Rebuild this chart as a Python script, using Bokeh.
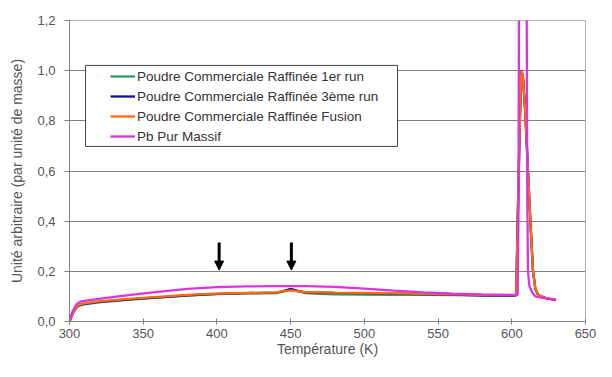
from bokeh.plotting import figure
from bokeh.models import (Legend, LegendItem, BoxAnnotation, Arrow, NormalHead,
                          FixedTicker)
from bokeh.embed import file_html
from bokeh.resources import INLINE

# ---------------- data ----------------
# Poudre Commerciale Raffinée 1er run (green)
t_run1 = [300, 302, 305, 307, 310, 320, 340, 360, 380, 400, 420, 440, 445, 450, 455, 460,
          470, 480, 500, 520, 540, 560, 580, 600, 603, 604, 605.5, 606.5, 607.5, 609,
          611, 612.6, 614.4, 616, 618, 622, 630]
v_run1 = [0.0, 0.03, 0.058, 0.064, 0.068, 0.076, 0.086, 0.095, 0.103, 0.109, 0.112, 0.113,
          0.119, 0.127, 0.12, 0.113, 0.110, 0.108, 0.107, 0.106, 0.106, 0.105, 0.103, 0.103,
          0.104, 0.4, 0.8, 1.0, 0.98, 0.85, 0.6, 0.4, 0.2, 0.13, 0.105, 0.095, 0.085]

# Poudre Commerciale Raffinée 3ème run (blue)
t_run3 = [300, 302, 305, 307, 310, 320, 340, 360, 380, 400, 420, 440, 445, 450, 455, 460,
          480, 500, 520, 540, 560, 580, 600, 603, 604, 605.5, 606.5, 607.5, 609,
          611, 612.6, 614.4, 616, 618, 622, 630]
v_run3 = [0.0, 0.03, 0.059, 0.066, 0.070, 0.078, 0.088, 0.096, 0.104, 0.110, 0.113, 0.115,
          0.121, 0.13, 0.122, 0.116, 0.114, 0.113, 0.111, 0.109, 0.107, 0.104, 0.103,
          0.104, 0.4, 0.8, 1.0, 0.98, 0.85, 0.6, 0.4, 0.2, 0.13, 0.105, 0.095, 0.085]

# Poudre Commerciale Raffinée Fusion (orange)
t_fus = [300, 302, 305, 307, 310, 320, 340, 360, 380, 400, 420, 440, 450, 460, 480, 500,
         520, 540, 560, 580, 600, 603, 604, 605.5, 606.5, 607.5, 609, 611, 612.6, 614.4,
         616, 618, 622, 630]
v_fus = [0.0, 0.03, 0.06, 0.068, 0.072, 0.080, 0.090, 0.098, 0.106, 0.111, 0.114, 0.116,
         0.124, 0.117, 0.115, 0.114, 0.112, 0.110, 0.108, 0.106, 0.105, 0.105, 0.4, 0.8,
         1.0, 0.98, 0.85, 0.6, 0.4, 0.2, 0.13, 0.105, 0.095, 0.085]

# Pb Pur Massif (magenta)
t_pb = [300, 302, 305, 307, 310, 320, 340, 360, 380, 400, 420, 440, 460, 480, 500, 520,
        540, 560, 580, 600, 604, 604.5, 605, 605.5, 609.5, 610, 610.5, 611, 612, 614,
        616, 620, 625, 630]
v_pb = [0.0, 0.04, 0.07, 0.078, 0.082, 0.090, 0.105, 0.118, 0.130, 0.137, 0.140, 0.141,
        0.141, 0.138, 0.131, 0.123, 0.116, 0.111, 0.108, 0.106, 0.106, 0.4, 1.5, 3.0, 3.0,
        1.5, 0.5, 0.2, 0.14, 0.115, 0.1, 0.095, 0.09, 0.087]

series_names = ["Poudre Commerciale Raffinée 1er run",
                "Poudre Commerciale Raffinée 3ème run",
                "Poudre Commerciale Raffinée Fusion",
                "Pb Pur Massif"]
series_colors = ["#339966", "#14149a", "#ff6a0a", "#dd33dd"]

x_ticks = [300, 350, 400, 450, 500, 550, 600, 650]
y_ticks = [0.0, 0.2, 0.4, 0.6, 0.8, 1.0, 1.2]
y_tick_labels = ["0,0", "0,2", "0,4", "0,6", "0,8", "1,0", "1,2"]

arrow_x = [401.5, 450.5]
arrow_y_top = 0.315
arrow_y_tip = 0.205

FONT = "Liberation Sans"
TXT = "#555555"

# ---------------- figure ----------------
p = figure(width=596, height=361, x_range=(300, 650), y_range=(0, 1.2),
           output_backend="svg", toolbar_location=None,
           min_border_left=69, min_border_right=11, min_border_top=20,
           min_border_bottom=40)
p.background_fill_color = "white"
p.border_fill_color = "white"
p.outline_line_color = "#b0b0b0"
p.outline_line_width = 1

p.xgrid.grid_line_color = None
p.ygrid.grid_line_color = "#808080"
p.ygrid.grid_line_width = 1

p.xaxis.ticker = FixedTicker(ticks=x_ticks)
p.yaxis.ticker = FixedTicker(ticks=y_ticks)
p.yaxis.major_label_overrides = {v: s for v, s in zip(y_ticks, y_tick_labels)}

for ax in (p.xaxis[0], p.yaxis[0]):
    ax.axis_line_color = "#808080"
    ax.major_tick_line_color = "#808080"
    ax.minor_tick_line_color = None
    ax.major_label_text_font = FONT
    ax.major_label_text_font_size = "13px"
    ax.major_label_text_color = TXT
    ax.axis_label_text_font = FONT
    ax.axis_label_text_font_size = "14px"
    ax.axis_label_text_font_style = "normal"
    ax.axis_label_text_color = TXT

p.xaxis.major_tick_in = 3
p.xaxis.major_tick_out = 3
p.xaxis.major_label_standoff = 4
p.xaxis.axis_label = "Température (K)"
p.xaxis.axis_label_standoff = 0

p.yaxis.major_tick_in = 0
p.yaxis.major_tick_out = 5
p.yaxis.major_label_standoff = 9
p.yaxis.axis_label = "Unité arbitraire (par unité de masse)"
p.yaxis.axis_label_standoff = 9

renderers = []
for (tx, vy), name, col in zip([(t_run1, v_run1), (t_run3, v_run3), (t_fus, v_fus), (t_pb, v_pb)],
                               series_names, series_colors):
    r = p.line(tx, vy, line_color=col, line_width=2.3)
    renderers.append(r)

# arrows
for ax_ in arrow_x:
    p.add_layout(Arrow(end=NormalHead(size=9, fill_color="black", line_color="black",
                                      line_width=1),
                       x_start=ax_, y_start=arrow_y_top, x_end=ax_, y_end=arrow_y_tip,
                       line_color="black", line_width=3))

# legend frame
box = BoxAnnotation(left=310.9, right=522.5, top=1.021, bottom=0.698,
                    fill_color="white", fill_alpha=1.0,
                    line_color="#404040", line_width=1, line_alpha=1.0)
p.add_layout(box)

legend = Legend(items=[LegendItem(label=n, renderers=[r]) for n, r in zip(series_names, renderers)],
                location=(41, 175), padding=0, margin=0, spacing=0,
                glyph_width=25, glyph_height=20, label_height=20, label_standoff=2,
                label_text_font=FONT, label_text_font_size="13.5px", label_text_color="#333333",
                border_line_alpha=0, background_fill_alpha=0)
p.add_layout(legend)

open("out.html", "w").write(file_html(p, INLINE))
